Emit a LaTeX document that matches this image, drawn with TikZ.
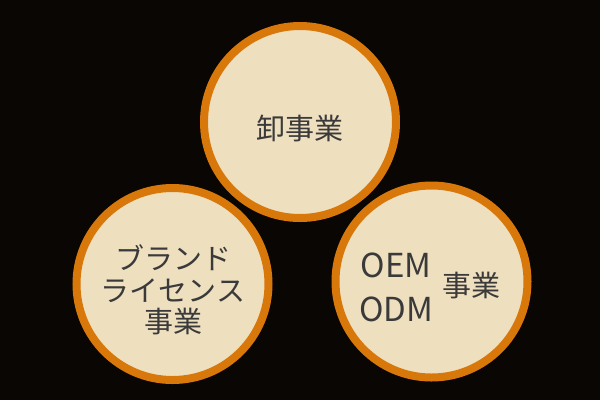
\documentclass[tikz,border=0pt]{standalone}
\usepackage{fontspec}
\newfontfamily\cjk{Noto Sans CJK JP}
\definecolor{bg}{HTML}{0A0603}
\definecolor{ring}{HTML}{D9780A}
\definecolor{cream}{HTML}{EEDFBF}
\definecolor{ink}{HTML}{3A3A3A}
\begin{document}
\begin{tikzpicture}[x=1pt,y=-1pt,
  bubble/.style={circle,draw=ring,fill=cream,line width=8pt,minimum size=192pt,inner sep=0pt},
  lbl/.style={text=ink,font=\cjk\fontsize{29}{31.5}\selectfont,align=center,inner sep=0pt},
  latin/.style={text=ink,font=\cjk\fontsize{33}{44}\selectfont,align=center,inner sep=0pt}]
\fill[bg] (0,0) rectangle (600,400);
\useasboundingbox (0,0) rectangle (600,400);
\node[bubble] (c1) at (300,122) {};
\node[bubble] (c2) at (172.5,284) {};
\node[bubble] (c3) at (431.5,281.5) {};
\node[lbl] (t1) at (300,128) {卸事業};
\node[lbl] (t2) at (173,290) {ブランド\\ライセンス\\事業};
\node[latin] (t3a) at (396,287) {OEM\\ODM};
\node[lbl] (t3b) at (471.5,285.5) {事業};
\end{tikzpicture}
\end{document}
